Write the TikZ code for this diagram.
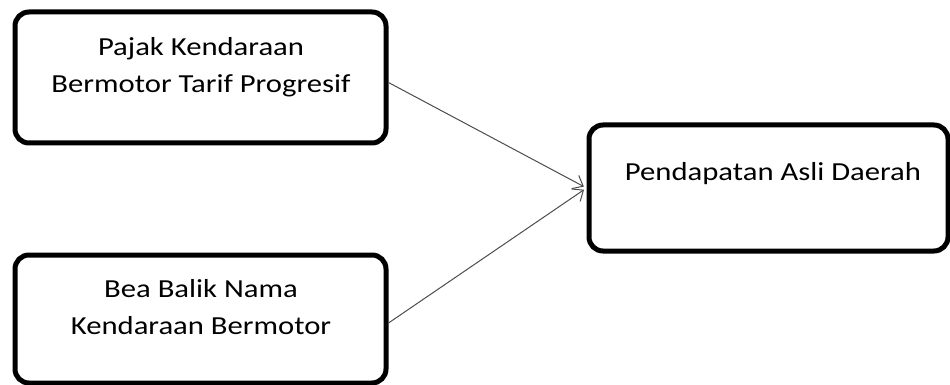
\documentclass[tikz,border=0pt]{standalone}
\usepackage{fontspec}
\setmainfont{Carlito}
\newfontfamily\widefont[FakeStretch=1.18]{Carlito}
\usetikzlibrary{arrows.meta}
\tikzset{
  box/.style={draw=black, line width=5pt, rounded corners=14pt, fill=white, inner sep=0pt},
  lbl/.style={font=\widefont\fontsize{26}{37}\selectfont, align=center, text=black, inner sep=0pt},
  link/.style={draw=black!70, line width=1pt, -{Straight Barb[length=9pt,width=15pt,line width=1pt]}}
}
\begin{document}
\begin{tikzpicture}[x=1pt,y=-1pt]
\useasboundingbox (0,0) rectangle (950,385);
\node[box, minimum width=371pt, minimum height=131pt] (a) at (200.5,77.5) {};
\node[box, minimum width=371pt, minimum height=128pt] (b) at (200.5,319) {};
\node[box, minimum width=359pt, minimum height=126pt] (c) at (768.5,188) {};
\node[lbl, anchor=base] (ta) at (201,93) {Pajak Kendaraan\\Bermotor Tarif Progresif};
\node[lbl, anchor=base] (tb) at (201,334) {Bea Balik Nama\\Kendaraan Bermotor};
\node[lbl, anchor=base] (tc) at (773,180) {Pendapatan Asli Daerah};
\draw[link, shorten >=3pt] ([yshift=-5pt]a.east) -- (c.west);
\draw[link, shorten >=3pt] ([yshift=-4pt]b.east) -- (c.west);
\end{tikzpicture}
\end{document}
